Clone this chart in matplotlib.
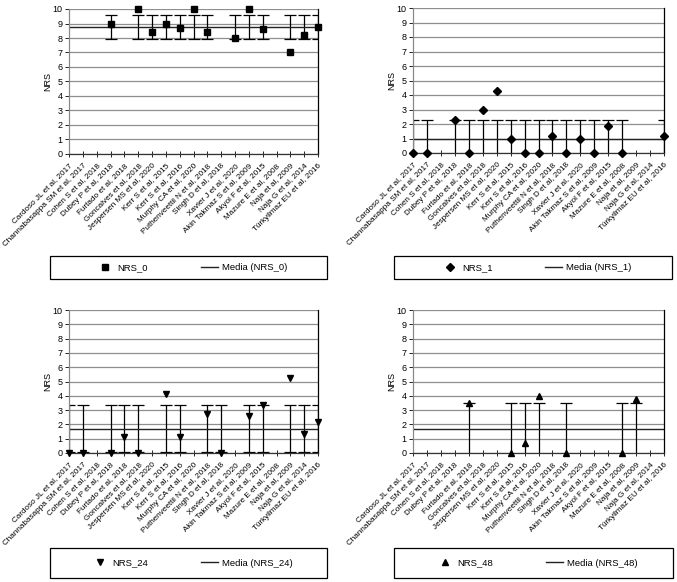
import numpy as np
import matplotlib
import matplotlib.pyplot as plt
from matplotlib.patches import Rectangle

matplotlib.use('Agg')
plt.rcParams['font.family'] = ['Liberation Sans', 'DejaVu Sans']

nan = np.nan

studies = ["Cardoso JL et al, 2017", "Channabasappa SM et al, 2017", "Cohen S et al, 2018",
           "Dubey P et al, 2018", "Furtado et al, 2018", "Goncalves et al, 2018",
           "Jespersen MS et al, 2020", "Kerr S et al, 2015", "Kerr S et al, 2016",
           "Murphy CA et al, 2020", "Puthenveettil N et al, 2018", "Singh D et al, 2018",
           "Xavier J et al, 2020", "Akin Takmaz S et al, 2009", "Akyol F et al, 2015",
           "Mazure E et al, 2008", "Naja et al, 2009", "Naja G et al, 2014",
           "Türkyilmaz EU et al, 2016"]

nrs_0 = [nan, nan, nan, 9, nan, 10, 8.4, 9, 8.7, 10, 8.4, nan, 8, 10, 8.6, nan, 7, 8.2, 8.75]
nrs_1 = [0, 0, nan, 2.3, 0, 3, 4.3, 1, 0, 0, 1.2, 0, 1, 0, 1.85, 0, nan, nan, 1.15]
nrs_24 = [0, 0, nan, 0, 1.1, 0, nan, 4.1, 1.1, nan, 2.75, 0, nan, 2.6, 3.35, nan, 5.25, 1.3, 2.2]
nrs_48 = [nan, nan, nan, nan, 3.5, nan, nan, 0, 0.7, 4.0, nan, 0, nan, nan, nan, 0, 3.75, nan, nan]

W, H = 677, 582
fig = plt.figure(figsize=(W / 100, H / 100), dpi=100)


def px_axes(x0, x1, ytop, ybot):
    return fig.add_axes([x0 / W, 1 - ybot / H, (x1 - x0) / W, (ybot - ytop) / H])


def panel(ax, values, name, marker, msize, box):
    x = np.arange(len(studies))
    v = np.array(values, float)
    ok = ~np.isnan(v)
    # Excel-style error bars: mean of the series +/- standard deviation
    mean = np.nanmean(v)
    sd = np.nanstd(v)

    ax.set_xlim(0, len(studies) - 1)
    ax.set_ylim(0, 10)
    ax.set_yticks(range(11))
    ax.set_xticks(x)
    ax.set_xticklabels(studies, rotation=45, ha='right', rotation_mode='anchor', fontsize=5.9)
    ax.tick_params(axis='x', direction='inout', length=5, width=0.6, pad=3.5)
    ax.tick_params(axis='y', length=3, width=0.6, labelsize=6.5, pad=1.5)
    ax.grid(axis='y', color='#8f8f8f', lw=0.9)
    ax.set_axisbelow(True)
    ax.spines['top'].set_visible(False)
    ax.spines['left'].set_color('#888888')
    ax.spines['right'].set_color('black')
    ax.spines['bottom'].set_color('#333333')
    for s in ax.spines.values():
        s.set_linewidth(0.9)
    ax.set_ylabel('NRS', fontsize=6.5, labelpad=0.5)

    ax.errorbar(x[ok], np.full(ok.sum(), mean), yerr=sd, fmt='none', ecolor='black',
                elinewidth=0.9, capsize=4, capthick=0.9, zorder=2)
    mline = ax.axhline(mean, color='#222222', lw=1, zorder=2.5)
    pts, = ax.plot(x[ok], v[ok], ls='none', marker=marker, color='black', ms=msize,
                   clip_on=False, zorder=3)

    bx0, bx1, by0, by1 = box
    fig.add_artist(Rectangle((bx0 / W, 1 - by1 / H), (bx1 - bx0) / W, (by1 - by0) / H,
                             transform=fig.transFigure, fill=False, ec='black', lw=0.9))
    fig.legend([pts, mline], [name, 'Media (%s)' % name], loc='center',
               bbox_to_anchor=((bx0 + bx1) / 2 / W + 0.005, 1 - (by0 + by1) / 2 / H),
               bbox_transform=fig.transFigure, ncol=2, frameon=False, fontsize=6.8,
               columnspacing=5.6, handlelength=1.8, handletextpad=0.4)


ax1 = px_axes(69, 318, 9, 154)
panel(ax1, nrs_0, 'NRS_0', 's', 4.5, (50, 327, 256, 279))
ax2 = px_axes(413, 664, 8, 153)
panel(ax2, nrs_1, 'NRS_1', 'D', 3.6, (394, 672, 256, 279))
ax3 = px_axes(69, 318, 310, 453)
panel(ax3, nrs_24, 'NRS_24', 'v', 5, (50, 327, 548, 578))
ax4 = px_axes(413, 664, 310, 453)
panel(ax4, nrs_48, 'NRS_48', '^', 5, (394, 673, 548, 578))

fig.savefig('out.png', dpi=100)
